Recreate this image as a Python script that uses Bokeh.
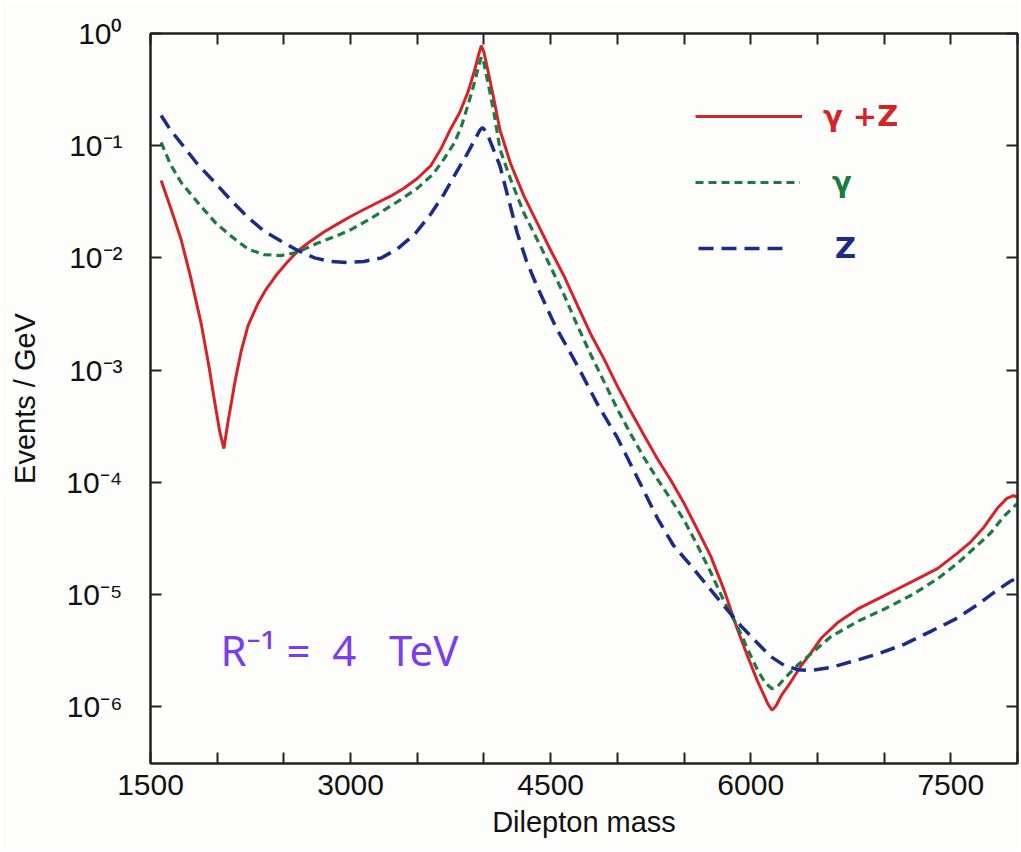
from bokeh.plotting import figure
from bokeh.models import (Range1d, FixedTicker, LinearAxis, LogAxis, Legend,
                          LegendItem, Label)
from bokeh.embed import file_html
from bokeh.resources import INLINE

# ---------------- data ----------------
mass_gamma_z = [1580, 1650, 1730, 1800, 1880, 1940, 1990, 2020, 2050, 2080, 2135,
                2180, 2232, 2300, 2360, 2450, 2530, 2610, 2700, 2800, 2900, 3000,
                3100, 3200, 3300, 3400, 3500, 3600, 3680, 3750, 3820, 3880, 3930,
                3960, 3980, 4000, 4040, 4080, 4120, 4200, 4300, 4400, 4500, 4600,
                4700, 4800, 4900, 5000, 5100, 5200, 5300, 5400, 5500, 5600, 5700,
                5800, 5900, 5980, 6050, 6100, 6130, 6160, 6190, 6230, 6300, 6380,
                6450, 6530, 6650, 6800, 6950, 7100, 7250, 7400, 7550, 7650, 7750,
                7850, 7920, 7970, 8000]
events_gamma_z = [4.9e-2, 2.82e-2, 1.45e-2, 6.8e-3, 2.6e-3, 1.05e-3, 4.5e-4, 2.8e-4,
                  2.0e-4, 3.4e-4, 8.1e-4, 1.48e-3, 2.5e-3, 3.8e-3, 5.1e-3, 7.2e-3,
                  9.3e-3, 1.17e-2, 1.41e-2, 1.70e-2, 2.0e-2, 2.34e-2, 2.7e-2, 3.1e-2,
                  3.55e-2, 4.17e-2, 5.1e-2, 6.6e-2, 9.5e-2, 1.41e-1, 2.0e-1, 3.0e-1,
                  4.7e-1, 6.5e-1, 7.8e-1, 6.8e-1, 4.1e-1, 2.4e-1, 1.38e-1, 6.9e-2,
                  3.55e-2, 2.04e-2, 1.17e-2, 6.9e-3, 3.8e-3, 2.1e-3, 1.26e-3, 7.2e-4,
                  4.3e-4, 2.63e-4, 1.62e-4, 1.05e-4, 6.5e-5, 3.8e-5, 2.2e-5, 1.1e-5,
                  4.9e-6, 2.75e-6, 1.7e-6, 1.26e-6, 1.05e-6, 9.3e-7, 1.02e-6, 1.26e-6,
                  1.66e-6, 2.34e-6, 3.0e-6, 4.1e-6, 5.6e-6, 7.4e-6, 9.1e-6, 1.12e-5,
                  1.38e-5, 1.70e-5, 2.34e-5, 2.95e-5, 4.0e-5, 5.9e-5, 7.2e-5, 7.6e-5,
                  7.4e-5]

mass_gamma = [1580, 1650, 1730, 1850, 1990, 2100, 2230, 2350, 2480, 2600, 2750,
              2900, 3000, 3150, 3350, 3500, 3620, 3700, 3780, 3830, 3880, 3930,
              3960, 3980, 4000, 4040, 4080, 4120, 4200, 4300, 4400, 4500, 4600,
              4700, 4800, 4900, 5000, 5100, 5200, 5300, 5400, 5500, 5600, 5700,
              5800, 5900, 5980, 6050, 6110, 6160, 6200, 6260, 6350, 6450, 6600,
              6800, 7000, 7200, 7400, 7550, 7700, 7800, 7900, 8000]
events_gamma = [1.07e-1, 6.8e-2, 4.7e-2, 3.16e-2, 2.04e-2, 1.58e-2, 1.2e-2, 1.07e-2,
                1.05e-2, 1.12e-2, 1.35e-2, 1.58e-2, 1.78e-2, 2.24e-2, 3.16e-2,
                4.17e-2, 5.6e-2, 7.6e-2, 1.07e-1, 1.48e-1, 2.3e-1, 3.7e-1, 5.1e-1,
                6.2e-1, 5.4e-1, 3.2e-1, 1.82e-1, 9.3e-2, 5.0e-2, 2.5e-2, 1.45e-2,
                8.3e-3, 4.7e-3, 2.5e-3, 1.38e-3, 7.9e-4, 4.5e-4, 2.7e-4, 1.66e-4,
                1.07e-4, 7.1e-5, 4.6e-5, 2.75e-5, 1.58e-5, 8.7e-6, 5.2e-6, 3.2e-6,
                2.14e-6, 1.62e-6, 1.45e-6, 1.51e-6, 1.82e-6, 2.34e-6, 2.95e-6,
                4.2e-6, 5.75e-6, 7.4e-6, 9.8e-6, 1.38e-5, 1.9e-5, 2.75e-5, 3.55e-5,
                5.0e-5, 6.5e-5]

mass_z = [1580, 1650, 1730, 1850, 1990, 2100, 2230, 2350, 2480, 2600, 2730, 2850,
          2980, 3100, 3230, 3350, 3480, 3600, 3700, 3800, 3870, 3930, 3970, 3990,
          4020, 4060, 4120, 4180, 4250, 4320, 4400, 4540, 4700, 4850, 5000, 5150,
          5300, 5420, 5550, 5660, 5800, 5930, 6050, 6150, 6250, 6350, 6450, 6600,
          6780, 6950, 7150, 7350, 7530, 7700, 7850, 7950, 8000]
events_z = [1.86e-1, 1.38e-1, 1.05e-1, 6.9e-2, 4.6e-2, 3.3e-2, 2.3e-2, 1.74e-2,
            1.41e-2, 1.17e-2, 1.0e-2, 9.3e-3, 9.1e-3, 9.3e-3, 1.0e-2, 1.2e-2,
            1.62e-2, 2.45e-2, 3.7e-2, 6.0e-2, 8.3e-2, 1.12e-1, 1.38e-1, 1.45e-1,
            1.32e-1, 1.0e-1, 6.6e-2, 3.5e-2, 1.66e-2, 9.3e-3, 5.5e-3, 2.4e-3,
            1.10e-3, 5.0e-4, 2.5e-4, 1.1e-4, 4.8e-5, 2.75e-5, 1.82e-5, 1.26e-5,
            7.9e-6, 5.2e-6, 3.7e-6, 2.8e-6, 2.34e-6, 2.14e-6, 2.1e-6, 2.24e-6,
            2.57e-6, 2.95e-6, 3.6e-6, 4.7e-6, 6.0e-6, 8.1e-6, 1.1e-5, 1.32e-5,
            1.41e-5]

series_labels = ["γ +Z", "γ", "Z"]

x_tick_values = [1500, 2000, 2500, 3000, 3500, 4000, 4500, 5000, 5500, 6000,
                 6500, 7000, 7500, 8000]
x_tick_labels = ["1500", "", "", "3000", "", "", "4500", "", "", "6000",
                 "", "", "7500", ""]
y_tick_values = [1e-6, 1e-5, 1e-4, 1e-3, 1e-2, 1e-1, 1.0]
y_tick_labels = ["10⁻⁶", "10⁻⁵", "10⁻⁴", "10⁻³", "10⁻²", "10⁻¹", "10⁰"]

annotation_text = "R⁻¹\u00a0=\u00a0\u00a04\u00a0\u00a0\u00a0TeV"

# ---------------- style ----------------
RED = "#d42428"
GREEN = "#1e7a42"
BLUE = "#1b2c86"
PURPLE = "#7a3cf0"
BG = "#fdfdfb"
FONT = "Liberation Sans"

p = figure(width=1019, height=850, y_axis_type="log",
           x_range=Range1d(1500, 8000), y_range=Range1d(3.12e-7, 1.0),
           output_backend="svg", toolbar_location=None,
           min_border_left=150, min_border_top=33, min_border_right=2,
           min_border_bottom=87)

p.background_fill_color = BG
p.border_fill_color = BG
p.grid.visible = False
p.outline_line_color = "#222222"
p.outline_line_width = 2

r_total = p.line(mass_gamma_z, events_gamma_z, line_color=RED, line_width=3)
r_gamma = p.line(mass_gamma, events_gamma, line_color=GREEN, line_width=3.2,
                 line_dash="8 5")
r_z = p.line(mass_z, events_z, line_color=BLUE, line_width=3.5,
             line_dash="15 8")

xt = FixedTicker(ticks=x_tick_values)
yt = FixedTicker(ticks=y_tick_values)


def style_axis(ax, show_labels):
    ax.axis_line_color = "#222222"
    ax.axis_line_width = 2
    ax.major_tick_in = 11
    ax.major_tick_out = 0
    ax.minor_tick_in = 0
    ax.minor_tick_out = 0
    ax.major_tick_line_color = "#222222"
    ax.major_tick_line_width = 2
    if show_labels:
        ax.major_label_text_font = FONT
        ax.major_label_text_font_size = "30px"
        ax.major_label_text_color = "#111111"
        ax.axis_label_text_font = FONT
        ax.axis_label_text_font_size = "29px"
        ax.axis_label_text_font_style = "normal"
        ax.axis_label_text_color = "#111111"
    else:
        ax.major_label_text_font_size = "1px"
        ax.major_label_text_alpha = 0


xa = p.xaxis[0]
xa.ticker = xt
xa.major_label_overrides = dict(zip(x_tick_values, x_tick_labels))
xa.axis_label = "Dilepton mass"
style_axis(xa, True)
xa.major_label_standoff = 11
xa.axis_label_standoff = 8

ya = p.yaxis[0]
ya.ticker = yt
ya.major_label_overrides = dict(zip(y_tick_values, y_tick_labels))
ya.axis_label = "Events / GeV"
style_axis(ya, True)
ya.major_label_standoff = 28
ya.axis_label_standoff = 22

top = LinearAxis(ticker=xt)
style_axis(top, False)
p.add_layout(top, "above")
right = LogAxis(ticker=yt)
style_axis(right, False)
p.add_layout(right, "right")

# ---------------- legend (three single-entry legends, coloured labels) ----
legend_specs = [
    (r_total, RED, 545, 630, 107, 21),
    (r_gamma, GREEN, 545, 564, 105, 32),
    (r_z, BLUE, 548, 498, 92, 45),
]
for (rend, col, lx, ly, gw, so), lab in zip(legend_specs, series_labels):
    lg = Legend(items=[LegendItem(label=lab, renderers=[rend])],
                location=(lx, ly), glyph_width=gw, glyph_height=30,
                label_height=30, label_standoff=so,
                label_text_color=col, label_text_font="DejaVu Sans",
                label_text_font_size="29px", label_text_font_style="bold",
                background_fill_alpha=0, border_line_alpha=0,
                padding=0, margin=0, spacing=0)
    p.add_layout(lg)

p.add_layout(Label(x=70, y=86, x_units="screen", y_units="screen",
                   text=annotation_text, text_color=PURPLE,
                   text_font="Noto Sans", text_font_size="42px"))

open("out.html", "w").write(file_html(p, INLINE))
